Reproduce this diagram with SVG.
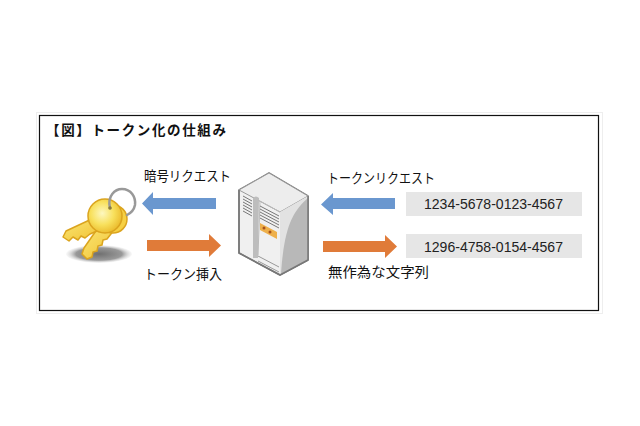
<svg xmlns="http://www.w3.org/2000/svg" width="640" height="426" viewBox="0 0 640 426">
<defs>
<style>
.t{font-family:"Noto Sans CJK JP","Liberation Sans",sans-serif;font-size:13.500px;fill:#111}
.n{font-family:"Liberation Sans","Noto Sans CJK JP",sans-serif;font-size:14px;fill:#222}
.box{fill:#e6e6e6}
.blue{fill:#6a97cf}
.orange{fill:#e07b39}
.kb{stroke:#dba41e;stroke-width:1.500;stroke-linejoin:round}
</style>
<radialGradient id="kg" cx="0.42" cy="0.42" r="0.62"><stop offset="0" stop-color="#fdf8c0"/><stop offset="0.55" stop-color="#f8e05c"/><stop offset="1" stop-color="#eab92a"/></radialGradient>
<linearGradient id="sg" x1="0" y1="0" x2="1" y2="1"><stop offset="0" stop-color="#fbe877"/><stop offset="1" stop-color="#f0bf30"/></linearGradient>
<radialGradient id="sh"><stop offset="0" stop-color="#707070"/><stop offset="0.7" stop-color="#999"/><stop offset="1" stop-color="#ddd" stop-opacity="0.2"/></radialGradient>
</defs>
<rect width="640" height="426" fill="#fff"/>
<rect x="36.500" y="112.500" width="566" height="201" fill="#fff" stroke="#eee"/>
<rect x="39.500" y="115.500" width="559" height="195" fill="#fff" stroke="#111" stroke-width="1.200"/>
<text x="46" y="135" class="t" font-weight="700" textLength="180" lengthAdjust="spacing">【図】トークン化の仕組み</text>
<g id="keys">
<ellipse cx="99" cy="254" rx="33" ry="9" fill="url(#sh)"/>
<path class="kb" fill="url(#sg)" d="M100 225 L84 248 L82 254 L87 259 L92 257 L93 252 L97 251 L98 246 L102 245 L103 240 L107 239 L118 225 Z"/>
<circle class="kb" cx="113" cy="219" r="14" fill="#f6d043"/>
<path class="kb" fill="url(#sg)" d="M96 217 L66 231 L63 237 L69 241 L73 237 L78 240 L81 236 L85 238 L90 234 L104 228 Z"/>
<circle class="kb" cx="105" cy="216" r="17" fill="url(#kg)"/>
<path d="M110 208 C107 196 115 189 122 189 C131 189 136 197 135 205 C134 210 131 213 127 215" fill="none" stroke="#999" stroke-width="2.500" stroke-linecap="round"/>
<circle cx="110" cy="208" r="1.800" fill="#8a7a3a"/>
</g>
<g id="server">
<path d="M239 190 L269 173 L308 196 L308 260 L280 275 L239 253 Z" fill="#f0f0f0" stroke="#777" stroke-width="1.500" stroke-linejoin="round"/>
<path d="M239 190 L269 173 L308 196 L280 212 Z" fill="#ededed" stroke="#999"/>
<path d="M280 212 L308 196 L308 260 L280 275 Z" fill="#e2e2e2"/>
<path d="M308 198 C292 212 284 228 281 274 L308 260 Z" fill="#b8b8b8"/>
<path d="M308 196 L308 260 L280 275 L239 253 L239 190" fill="none" stroke="#777" stroke-width="1.500" stroke-linejoin="round"/>
<path d="M280 212 L260 201 L258 255" fill="none" stroke="#bbb"/>
<path d="M253 198 Q256 195 259 198 L258 258 L253 258 Z" fill="#bdbdbd"/>
<path d="M243 196 L252 201 M243 199 L252 204 M243 202 L252 207 M243 205 L252 210 M243 208 L252 213 M243 211 L252 216 M260 206 L279 216 M260 209 L279 219 M260 212 L279 222 M260 215 L279 225 M260 218 L279 228" stroke="#777" fill="none"/>
<path d="M260 223 L277 232 L277 239 L260 230 Z" fill="#eeb04b"/>
<circle cx="264" cy="228" r="1.500" fill="#a8521a"/><circle cx="270" cy="232" r="1.500" fill="#a8521a"/>
<path d="M258 256 L279 267 M258 261 L279 272" stroke="#999" fill="none"/>
</g>
<g id="connectors">
<path class="blue" d="M216 198 H153 V192 L142 203.500 L153 215 V209 H216 Z"/>
<path class="orange" d="M147 240 H209 V234 L221 245.500 L209 257 V251 H147 Z"/>
<path class="blue" d="M395 198 H333 V193 L321 204.500 L333 215 V209 H395 Z"/>
<path class="orange" d="M323 241 H385 V235 L397 246.500 L385 258 V252 H323 Z"/>
</g>
<g id="label-encrypt"><text x="144" y="181" class="t" textLength="87" lengthAdjust="spacingAndGlyphs">暗号リクエスト</text></g>
<g id="label-insert"><text x="144" y="279" class="t" textLength="78" lengthAdjust="spacingAndGlyphs">トークン挿入</text></g>
<g id="label-tokenreq"><text x="327" y="183" class="t" textLength="108" lengthAdjust="spacingAndGlyphs">トークンリクエスト</text></g>
<g id="label-random"><text x="328" y="277" class="t" textLength="101" lengthAdjust="spacingAndGlyphs">無作為な文字列</text></g>
<g id="card-1"><rect class="box" x="406" y="192" width="176" height="24"/><text x="424" y="209" class="n" textLength="139" lengthAdjust="spacingAndGlyphs">1234-5678-0123-4567</text></g>
<g id="card-2"><rect class="box" x="406" y="234" width="176" height="24"/><text x="424" y="252" class="n" textLength="139" lengthAdjust="spacingAndGlyphs">1296-4758-0154-4567</text></g>
</svg>
